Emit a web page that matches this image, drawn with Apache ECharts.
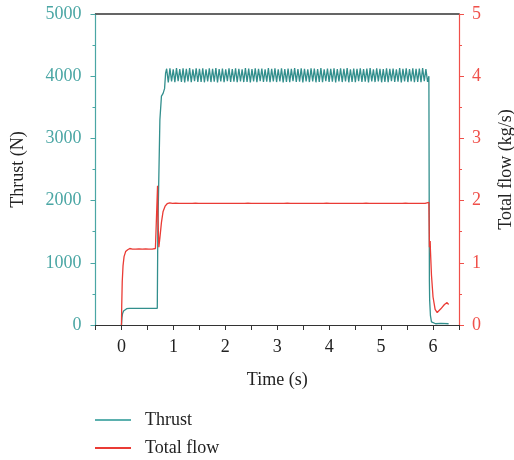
<!DOCTYPE html>
<html>
<head>
<meta charset="utf-8">
<script src="https://cdn.jsdelivr.net/npm/echarts@6/dist/echarts.min.js"></script>
<style>html,body{margin:0;padding:0;background:#fff}#c{width:514px;height:460px}</style>
</head>
<body>
<div id="c"></div>
<script>
// ---------- data ----------
var xTickValues = [-0.5,0,0.5,1,1.5,2,2.5,3,3.5,4,4.5,5,5.5,6,6.5];
var xLabelValues = [0,1,2,3,4,5,6];

// Thrust: start-up, plateau (sampled), shut-down
var thrustStartTime = [0, 0.01, 0.02, 0.04, 0.07, 0.1, 0.15, 0.3, 0.5, 0.69, 0.70, 0.74, 0.77, 0.8, 0.83, 0.85];
var thrustStartVal  = [0, 120, 180, 225, 250, 262, 268, 268, 268, 268, 1500, 3300, 3680, 3720, 3800, 4050];
var plateauStart = 0.87;
var plateauStep = 0.0316;
var thrustPlateau = [
4120,3900,4125,3915,4110,3905,4130,3920,4115,3910,
4125,3900,4120,3915,4130,3905,4110,3920,4125,3910,
4118,3908,4128,3902,4112,3918,4126,3906,4120,3912,
4130,3900,4115,3915,4122,3905,4110,3920,4128,3908,
4116,3912,4126,3902,4120,3918,4112,3906,4130,3910,
4122,3900,4114,3916,4128,3904,4118,3920,4124,3908,
4110,3912,4130,3902,4120,3916,4126,3906,4112,3918,
4128,3900,4116,3910,4124,3904,4118,3920,4130,3908,
4114,3912,4126,3900,4120,3916,4110,3906,4128,3918,
4122,3902,4116,3910,4130,3904,4112,3920,4124,3908,
4118,3912,4128,3900,4114,3916,4126,3906,4120,3918,
4130,3902,4112,3910,4124,3904,4118,3920,4128,3908,
4116,3912,4122,3900,4130,3916,4110,3906,4126,3918,
4120,3902,4114,3910,4128,3904,4118,3920,4124,3908,
4112,3912,4130,3900,4120,3916,4126,3906,4116,3918,
4128,3902,4118,3910,4124,3904,4130,3920,4114,3908
];
var thrustEndTime = [5.92, 5.93, 5.935, 5.95, 5.97, 5.99, 6.05, 6.15, 6.3];
var thrustEndVal  = [4000, 700, 400, 150, 50, 25, 20, 25, 20];

// Total flow
var flowStartTime = [0, 0.005, 0.015, 0.03, 0.05, 0.08, 0.12, 0.16];
var flowStartVal  = [0, 0.3, 0.7, 0.95, 1.1, 1.18, 1.21, 1.23];
var flowLowStart = 0.18;
var flowLowPlateau = [1.24,1.22,1.24,1.22,1.24,1.225,1.24,1.22,1.24,1.225,1.24,1.22,1.24,1.22,1.24,1.23];
var flowJumpTime = [0.69, 0.695, 0.70, 0.72, 0.74, 0.77, 0.80, 0.84, 0.88, 0.93];
var flowJumpVal  = [1.23, 2.24, 1.8, 1.25, 1.4, 1.65, 1.82, 1.91, 1.95, 1.965];
var flowHighStart = 0.95;
var flowHighPlateau = [
1.975,1.955,1.978,1.958,1.975,1.955,1.977,1.957,1.975,1.955,
1.976,1.956,1.975,1.955,1.978,1.958,1.975,1.955,1.977,1.956,
1.975,1.955,1.976,1.957,1.975,1.955,1.978,1.956,1.975,1.955,
1.977,1.957,1.975,1.955,1.976,1.956,1.975,1.955,1.978,1.957,
1.975,1.955,1.977,1.956,1.975,1.955,1.976,1.958,1.975,1.955,
1.978,1.956,1.975,1.955,1.977,1.957,1.975,1.955,1.976,1.956,
1.975,1.955,1.978,1.957,1.975,1.955,1.977,1.956,1.975,1.955,
1.976,1.958,1.975,1.955,1.978,1.956,1.975,1.955,1.977,1.957,
1.975,1.955,1.976,1.956,1.975,1.955,1.978,1.957,1.975,1.955,
1.977,1.956,1.975,1.955,1.976,1.958,1.975,1.955,1.978,1.956,
1.975,1.955,1.977,1.957,1.975,1.955,1.976,1.956,1.975,1.955,
1.978,1.957,1.975,1.955,1.977,1.956,1.975,1.955,1.976,1.958,
1.975,1.955,1.978,1.956,1.975,1.955,1.977,1.957,1.975,1.955,
1.976,1.956,1.975,1.955,1.978,1.957,1.975,1.955,1.977,1.956,
1.975,1.955,1.976,1.958,1.975,1.955,1.978,1.956,1.975,1.955,
1.977,1.957,1.975,1.955,1.976,1.956,1.975
];
var flowEndTime = [5.92, 5.93, 5.94, 5.945, 5.95, 5.97, 6.0, 6.04, 6.08, 6.15, 6.22, 6.27, 6.3];
var flowEndVal  = [1.97, 1.25, 1.25, 1.35, 1.2, 0.8, 0.45, 0.25, 0.2, 0.26, 0.33, 0.36, 0.33];

// ---------- build ----------
function pairs(t, v){ return t.map(function(x,i){ return [x, v[i]]; }); }
function sampled(t0, dt, v){ return v.map(function(y,i){ return [+(t0 + i*dt).toFixed(4), y]; }); }

var thrustData = pairs(thrustStartTime, thrustStartVal)
  .concat(sampled(plateauStart, plateauStep, thrustPlateau))
  .concat(pairs(thrustEndTime, thrustEndVal));
var flowData = pairs(flowStartTime, flowStartVal)
  .concat(sampled(flowLowStart, plateauStep, flowLowPlateau))
  .concat(pairs(flowJumpTime, flowJumpVal))
  .concat(sampled(flowHighStart, plateauStep, flowHighPlateau))
  .concat(pairs(flowEndTime, flowEndVal));

var FONT = 'Liberation Serif';
var TEAL = '#328f8d', TEAL_AX = '#4aa6a4', RED = '#ea3b35', RED_AX = '#f0504a';
function plain(v){ return String(v); }

var chart = echarts.init(document.getElementById('c'), null, {renderer:'canvas'});
chart.setOption({
  animation: false,
  textStyle: {fontFamily: FONT},
  grid: {left: 95.5, right: 55, top: 14, bottom: 135, containLabel: false, outerBoundsMode: 'none'},
  legend: {
    orient: 'vertical', left: 95, top: 411, height: 49, padding: 0,
    itemWidth: 36, itemHeight: 2, itemGap: 10, icon: 'rect',
    textStyle: {fontFamily: FONT, fontSize: 18, color: '#222', padding: [0,0,0,9]},
    data: [{name: 'Thrust', itemStyle:{color:'#5bb0ae'}}, {name: 'Total flow', itemStyle:{color: RED}}]
  },
  xAxis: [{
    type: 'value', min: -0.5, max: 6.5, position: 'bottom',
    name: 'Time (s)', nameLocation: 'middle', nameGap: 46,
    nameTextStyle: {fontFamily: FONT, fontSize: 18, color: '#222'},
    axisLine: {show: true, onZero: false, lineStyle: {color: '#333', width: 1.2}},
    axisTick: {show: true, length: 5, customValues: xTickValues, lineStyle: {color: '#333'}},
    axisLabel: {customValues: xLabelValues, margin: 13, fontFamily: FONT, fontSize: 18, color: '#222', formatter: plain},
    splitLine: {show: false}
  }, {
    type: 'value', min: -0.5, max: 6.5, position: 'top',
    axisLine: {show: true, onZero: false, lineStyle: {color: '#333', width: 1.5}},
    axisTick: {show: false}, axisLabel: {show: false}, splitLine: {show: false}
  }],
  yAxis: [{
    type: 'value', min: 0, max: 5000, interval: 1000, position: 'left',
    name: 'Thrust (N)', nameLocation: 'middle', nameGap: 68, nameRotate: 90,
    nameTextStyle: {fontFamily: FONT, fontSize: 18, color: '#222'},
    axisLine: {show: true, onZero: false, lineStyle: {color: TEAL_AX, width: 1.2}},
    axisTick: {show: true, length: 5, lineStyle: {color: TEAL_AX}},
    minorTick: {show: true, splitNumber: 2, length: 3, lineStyle: {color: TEAL_AX}},
    axisLabel: {margin: 14, fontFamily: FONT, fontSize: 18, color: TEAL_AX, formatter: plain},
    splitLine: {show: false}
  }, {
    type: 'value', min: 0, max: 5, interval: 1, position: 'right',
    name: 'Total flow (kg/s)', nameLocation: 'middle', nameGap: 38, nameRotate: 90,
    nameTextStyle: {fontFamily: FONT, fontSize: 18, color: '#222'},
    axisLine: {show: true, onZero: false, lineStyle: {color: RED_AX, width: 1.2}},
    axisTick: {show: true, length: 5, lineStyle: {color: RED_AX}},
    minorTick: {show: true, splitNumber: 2, length: 3, lineStyle: {color: RED_AX}},
    axisLabel: {margin: 13, fontFamily: FONT, fontSize: 18, color: RED_AX, formatter: plain},
    splitLine: {show: false}
  }],
  series: [{
    name: 'Thrust', type: 'line', xAxisIndex: 0, yAxisIndex: 0, data: thrustData,
    showSymbol: false, symbol: 'none', lineStyle: {color: TEAL, width: 1.3}, itemStyle: {color: TEAL}
  }, {
    name: 'Total flow', type: 'line', xAxisIndex: 0, yAxisIndex: 1, data: flowData,
    showSymbol: false, symbol: 'none', lineStyle: {color: RED, width: 1.3}, itemStyle: {color: RED}, z: 3
  }]
});
</script>
</body>
</html>
